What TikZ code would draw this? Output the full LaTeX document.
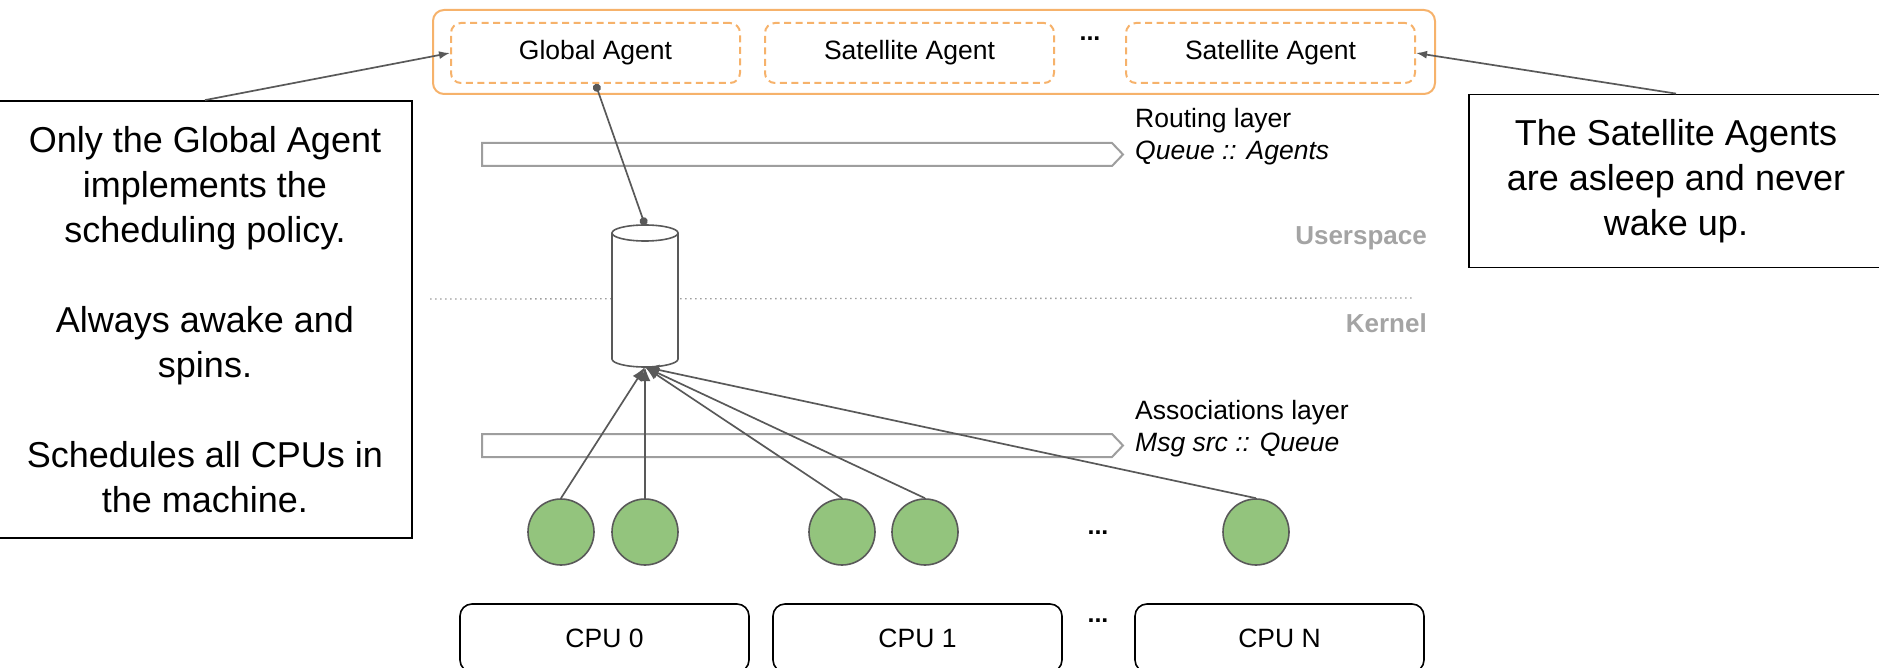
\documentclass[tikz,border=0pt]{standalone}
\usepackage{fontspec}
\setmainfont{Liberation Sans}
\usetikzlibrary{arrows.meta}

\definecolor{agentorange}{HTML}{F6B26B}
\definecolor{threadgreen}{HTML}{93C47D}
\definecolor{linegray}{HTML}{595959}
\definecolor{layergray}{HTML}{9E9E9E}
\definecolor{ringlabel}{HTML}{A4A4A4}

\tikzset{
  small/.style={font=\fontsize{26.5}{32}\selectfont},
  agentgroup/.style={draw=agentorange, line width=2pt, rounded corners=11pt,
    minimum width=1002pt, minimum height=84pt, inner sep=0pt},
  agentbox/.style={small, draw=agentorange, line width=2pt, dash pattern=on 7pt off 4.5pt,
    rounded corners=10pt, minimum width=289pt, minimum height=60pt, inner sep=0pt},
  cpubox/.style={small, draw=black, line width=1.6pt, rounded corners=12pt,
    minimum width=289pt, minimum height=68pt, inner sep=0pt},
  thread/.style={circle, draw=linegray, fill=threadgreen, line width=1.6pt,
    minimum size=66pt, inner sep=0pt},
  callout/.style={draw=black, line width=1.8pt, align=center, inner sep=0pt,
    font=\fontsize{36}{45}\selectfont},
  conn/.style={draw=linegray, line width=1.7pt},
  layerarrow/.style={draw=layergray, line width=2pt, fill=white},
  layerlabel/.style={small, align=left, anchor=west, inner sep=0pt},
  ringtext/.style={font=\fontsize{26}{30}\selectfont\bfseries, text=ringlabel,
    anchor=east, inner sep=0pt},
  ellipsis/.style={font=\fontsize{25}{30}\selectfont\bfseries, inner sep=0pt},
}

\begin{document}
\begin{tikzpicture}[x=1pt, y=-1pt]
  \useasboundingbox (0,0) rectangle (1879,668);

  % agents running in userspace
  \node[agentgroup] (agents) at (934,52) {};
  \node[agentbox] (ga) at (595.5,53) {Global Agent};
  \node[agentbox] (sa1) at (909.5,53) {Satellite Agent};
  \node[agentbox] (sa2) at (1270.5,53) {Satellite Agent};
  \node[ellipsis] (adots) at (1090,39) {...};

  % layers
  \draw[layerarrow] (482,143) -- (1112,143) -- (1123,154.5) -- (1112,166) -- (482,166) -- cycle;
  \node[layerlabel] (routing) at (1135,137) {Routing layer\\\textit{Queue :: Agents}};
  \draw[layerarrow] (482,434) -- (1112,434) -- (1123,445.5) -- (1112,457) -- (482,457) -- cycle;
  \node[layerlabel] (assoc) at (1135,429) {Associations layer\\\textit{Msg src :: Queue}};

  % userspace / kernel boundary
  \draw[layergray, line width=1.3pt, dash pattern=on 1.5pt off 3.5pt] (430,299) -- (1415,298);
  \node[ringtext] (user) at (1427,238) {Userspace};
  \node[ringtext] (kern) at (1427,323) {Kernel};

  % message queue
  \path[draw=linegray, fill=white, line width=1.6pt]
    (612,233) -- (612,359) arc[start angle=180, end angle=0, x radius=33, y radius=8]
    -- (678,233);
  \draw[draw=linegray, fill=white, line width=1.6pt] (645,233) ellipse [x radius=33, y radius=8];
  \coordinate (qtop) at (645,225);
  \coordinate (qbot) at (645,367);

  % threads
  \node[thread] (t1) at (561,532) {};
  \node[thread] (t2) at (645,532) {};
  \node[thread] (t3) at (842,532) {};
  \node[thread] (t4) at (925,532) {};
  \node[thread] (t5) at (1256,532) {};
  \node[ellipsis] (tdots) at (1098,533) {...};

  % CPUs
  \node[cpubox] (cpu0) at (604.5,638) {CPU 0};
  \node[cpubox] (cpu1) at (917.5,638) {CPU 1};
  \node[cpubox] (cpun) at (1279.5,638) {CPU N};
  \node[ellipsis] (cdots) at (1098,621) {...};

  % connections
  \draw[conn, {Circle[length=8pt]}-{Circle[length=8pt]}] (ga.south) -- (qtop);
  \foreach \t in {t1,t2,t3,t4,t5}
    \draw[conn, -{Latex[length=14pt, width=11pt]}] (\t.north) -- (qbot);

  % callouts
  \node[callout, minimum width=414pt, minimum height=437pt] (noteg) at (205,319.5)
    {Only the Global Agent\\implements the\\scheduling policy.\\[45pt]Always awake and\\spins.\\[45pt]Schedules all CPUs in\\the machine.};
  \node[callout, minimum width=414pt, minimum height=173pt] (notes) at (1676,181)
    {The Satellite Agents\\are asleep and never\\wake up.};
  \draw[conn, -{Latex[length=11pt, width=8pt]}] (noteg.north) -- (ga.west);
  \draw[conn, -{Latex[length=11pt, width=8pt]}] (notes.north) -- (sa2.east);
\end{tikzpicture}
\end{document}
